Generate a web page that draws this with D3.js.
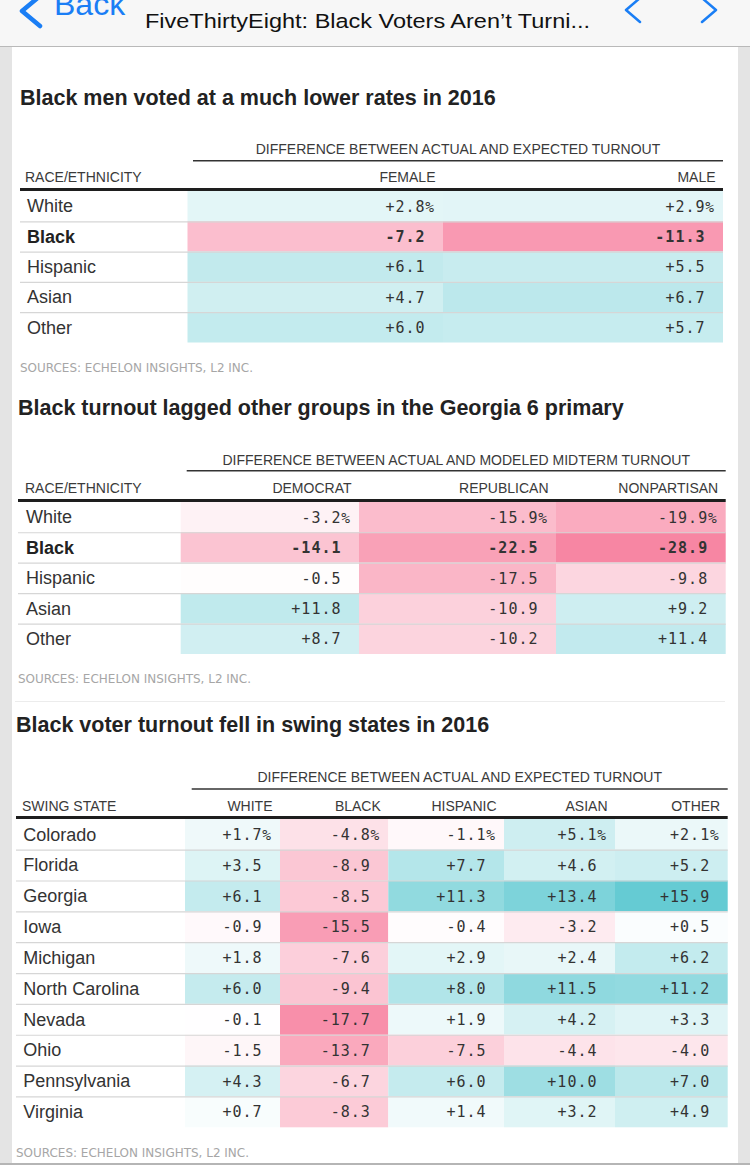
<!DOCTYPE html>
<html>
<head>
<meta charset="utf-8">
<script src="https://cdn.jsdelivr.net/npm/d3@7"></script>
<style>
  html, body { margin: 0; padding: 0; background: #e4e4e4; }
  svg { display: block; }
</style>
</head>
<body>
<script>
// ---------------- DATA ----------------
const navTitle = "FiveThirtyEight: Black Voters Aren\u2019t Turni...";

const t1Title = "Black men voted at a much lower rates in 2016";
const t1Group = "DIFFERENCE BETWEEN ACTUAL AND EXPECTED TURNOUT";
const t1RowHeader = "RACE/ETHNICITY";
const t1Rows = ["White", "Black", "Hispanic", "Asian", "Other"];
const t1Cols = ["FEMALE", "MALE"];
const t1Female = [2.8, -7.2, 6.1, 4.7, 6.0];
const t1Male = [2.9, -11.3, 5.5, 6.7, 5.7];

const t2Title = "Black turnout lagged other groups in the Georgia 6 primary";
const t2Group = "DIFFERENCE BETWEEN ACTUAL AND MODELED MIDTERM TURNOUT";
const t2RowHeader = "RACE/ETHNICITY";
const t2Rows = ["White", "Black", "Hispanic", "Asian", "Other"];
const t2Cols = ["DEMOCRAT", "REPUBLICAN", "NONPARTISAN"];
const t2Democrat = [-3.2, -14.1, -0.5, 11.8, 8.7];
const t2Republican = [-15.9, -22.5, -17.5, -10.9, -10.2];
const t2Nonpartisan = [-19.9, -28.9, -9.8, 9.2, 11.4];

const t3Title = "Black voter turnout fell in swing states in 2016";
const t3Group = "DIFFERENCE BETWEEN ACTUAL AND EXPECTED TURNOUT";
const t3RowHeader = "SWING STATE";
const t3Rows = ["Colorado", "Florida", "Georgia", "Iowa", "Michigan", "North Carolina",
                "Nevada", "Ohio", "Pennsylvania", "Virginia"];
const t3Cols = ["WHITE", "BLACK", "HISPANIC", "ASIAN", "OTHER"];
const t3White = [1.7, 3.5, 6.1, -0.9, 1.8, 6.0, -0.1, -1.5, 4.3, 0.7];
const t3Black = [-4.8, -8.9, -8.5, -15.5, -7.6, -9.4, -17.7, -13.7, -6.7, -8.3];
const t3Hispanic = [-1.1, 7.7, 11.3, -0.4, 2.9, 8.0, 1.9, -7.5, 6.0, 1.4];
const t3Asian = [5.1, 4.6, 13.4, -3.2, 2.4, 11.5, 4.2, -4.4, 10.0, 3.2];
const t3Other = [2.1, 5.2, 15.9, 0.5, 6.2, 11.2, 3.3, -4.0, 7.0, 4.9];

const sourceText = "SOURCES: ECHELON INSIGHTS, L2 INC.";

// ---------------- LAYOUT / STYLE ----------------
const W = 750, H = 1165;
const PINK = "#f7819f", TEAL = "#5fc9d1";
const SANS = "'Liberation Sans', Arial, Helvetica, sans-serif";
const MONO = "'DejaVu Sans Mono', 'Liberation Mono', monospace";

const tables = [
  { title: t1Title, group: t1Group, rowHeader: t1RowHeader, rows: t1Rows, cols: t1Cols,
    series: [t1Female, t1Male], boldRow: "Black",
    left: 20, right: 723, titleX: 20, titleY: 105, groupY: 154, groupLineY: 160.7, groupLineX0: 193,
    headY: 182, headX: 25, thickY: 189.5, rowTop: 191, rowBottom: 342.5, labelX: 27,
    edges: [187.5, 443, 723], sourceY: 372.3, sourceX: 20, colorDomain: [-14, 0, 16] },
  { title: t2Title, group: t2Group, rowHeader: t2RowHeader, rows: t2Rows, cols: t2Cols,
    series: [t2Democrat, t2Republican, t2Nonpartisan], boldRow: "Black",
    left: 18, right: 725.7, titleX: 18, titleY: 415, groupY: 465, groupLineY: 470.7, groupLineX0: 186.7,
    headY: 493.3, headX: 25, thickY: 500.5, rowTop: 501.8, rowBottom: 654, labelX: 26,
    edges: [180.7, 359, 556, 725.7], sourceY: 683.3, sourceX: 18, colorDomain: [-30, 0, 30] },
  { title: t3Title, group: t3Group, rowHeader: t3RowHeader, rows: t3Rows, cols: t3Cols,
    series: [t3White, t3Black, t3Hispanic, t3Asian, t3Other], boldRow: null,
    left: 16, right: 727.7, titleX: 16, titleY: 731.7, groupY: 781.7, groupLineY: 789, groupLineX0: 191.7,
    headY: 810.7, headX: 22, thickY: 817.5, rowTop: 818.8, rowBottom: 1127.3, labelX: 23.3,
    edges: [185, 280, 388.3, 504, 615, 727.7], sourceY: 1157.3, sourceX: 16, colorDomain: [-20, 0, 16.5] }
];

const svg = d3.select("body").append("svg").attr("width", W).attr("height", H);

// page background + white panel
svg.append("rect").attr("x", 0).attr("y", 0).attr("width", W).attr("height", H).attr("fill", "#e4e4e4");
svg.append("rect").attr("x", 12).attr("y", 46).attr("width", 726).attr("height", 1117).attr("fill", "#ffffff");

// nav bar
svg.append("rect").attr("x", 0).attr("y", 0).attr("width", W).attr("height", 46).attr("fill", "#f7f7f7");
svg.append("line").attr("x1", 0).attr("x2", W).attr("y1", 46.5).attr("y2", 46.5)
  .attr("stroke", "#b9b9b9").attr("stroke-width", 1);
const blue = "#1a7ef5";
svg.append("path").attr("d", "M40,-4 L22,11 L40,26").attr("fill", "none")
  .attr("stroke", blue).attr("stroke-width", 4.5).attr("stroke-linecap", "round").attr("stroke-linejoin", "round");
svg.append("text").attr("x", 54).attr("y", 15).attr("font-family", SANS).attr("font-size", 32)
  .attr("fill", blue).text("Back");
svg.append("text").attr("x", 145).attr("y", 28).attr("font-family", SANS).attr("font-size", 20.5)
  .attr("fill", "#111").attr("textLength", 445).attr("lengthAdjust", "spacingAndGlyphs").text(navTitle);
svg.append("path").attr("d", "M640,-2 L626,10 L640,22").attr("fill", "none")
  .attr("stroke", blue).attr("stroke-width", 2.5).attr("stroke-linecap", "round").attr("stroke-linejoin", "round");
svg.append("path").attr("d", "M702,-2 L716,10 L702,22").attr("fill", "none")
  .attr("stroke", blue).attr("stroke-width", 2.5).attr("stroke-linecap", "round").attr("stroke-linejoin", "round");

// faint rule above third table & bottom edge
svg.append("line").attr("x1", 15).attr("x2", 725).attr("y1", 701.5).attr("y2", 701.5)
  .attr("stroke", "#ececec").attr("stroke-width", 1);
svg.append("rect").attr("x", 0).attr("y", 1163).attr("width", W).attr("height", 2).attr("fill", "#b5b5b5");

const fmt = v => (v > 0 ? "+" : v < 0 ? "-" : "") + Math.abs(v).toFixed(1);

function drawTable(cfg) {
  const g = svg.append("g");
  const color = d3.scaleLinear().domain(cfg.colorDomain).range([PINK, "#ffffff", TEAL])
    .interpolate(d3.interpolateRgb).clamp(true);
  const y = d3.scaleBand().domain(cfg.rows).range([cfg.rowTop, cfg.rowBottom]);
  const x = d3.scaleOrdinal().domain(cfg.cols).range(cfg.edges.slice(0, -1));
  const xEnd = d3.scaleOrdinal().domain(cfg.cols).range(cfg.edges.slice(1));

  // title
  g.append("text").attr("x", cfg.titleX).attr("y", cfg.titleY)
    .attr("font-family", SANS).attr("font-weight", "bold").attr("font-size", 21.5)
    .attr("fill", "#222").text(cfg.title);

  // group header
  g.append("text").attr("x", (cfg.groupLineX0 + cfg.right) / 2).attr("y", cfg.groupY)
    .attr("text-anchor", "middle").attr("font-family", SANS).attr("font-size", 14)
    .attr("fill", "#3a3a3a").text(cfg.group);
  g.append("line").attr("x1", cfg.groupLineX0).attr("x2", cfg.right)
    .attr("y1", cfg.groupLineY).attr("y2", cfg.groupLineY).attr("stroke", "#333").attr("stroke-width", 1.5);

  // column headers
  g.append("text").attr("x", cfg.headX).attr("y", cfg.headY).attr("font-family", SANS)
    .attr("font-size", 14).attr("fill", "#3a3a3a").text(cfg.rowHeader);
  g.selectAll("text.colhead").data(cfg.cols).join("text").attr("class", "colhead")
    .attr("x", d => xEnd(d) - 7.5).attr("y", cfg.headY).attr("text-anchor", "end")
    .attr("font-family", SANS).attr("font-size", 14).attr("fill", "#3a3a3a").text(d => d);

  // cells
  const cells = [];
  cfg.cols.forEach((c, ci) => cfg.rows.forEach((r, ri) => cells.push({ col: c, row: r, ri, v: cfg.series[ci][ri] })));
  g.selectAll("rect.cell").data(cells).join("rect").attr("class", "cell")
    .attr("x", d => x(d.col)).attr("y", d => y(d.row))
    .attr("width", d => xEnd(d.col) - x(d.col)).attr("height", y.bandwidth())
    .attr("fill", d => color(d.v));

  // row separators
  g.selectAll("line.sep").data(cfg.rows.slice(1)).join("line").attr("class", "sep")
    .attr("x1", cfg.left).attr("x2", cfg.right)
    .attr("y1", d => y(d) + 0.5).attr("y2", d => y(d) + 0.5)
    .attr("stroke", "#d6d6d6").attr("stroke-width", 1.2);

  // thick header rule
  g.append("line").attr("x1", cfg.left).attr("x2", cfg.right)
    .attr("y1", cfg.thickY).attr("y2", cfg.thickY).attr("stroke", "#1e1e1e").attr("stroke-width", 3);

  // row labels
  g.selectAll("text.rowlab").data(cfg.rows).join("text").attr("class", "rowlab")
    .attr("x", cfg.labelX).attr("y", d => y(d) + y.bandwidth() / 2 + 6.3)
    .attr("font-family", SANS).attr("font-size", 18)
    .attr("font-weight", d => d === cfg.boldRow ? "bold" : "normal")
    .attr("fill", d => d === cfg.boldRow ? "#222" : "#333").text(d => d);

  // values
  g.selectAll("text.val").data(cells).join("text").attr("class", "val")
    .attr("x", d => xEnd(d.col) - 17.5).attr("y", d => y(d.row) + y.bandwidth() / 2 + 5.6)
    .attr("text-anchor", "end").attr("font-family", MONO).attr("font-size", 15)
    .attr("letter-spacing", 1.0)
    .attr("font-weight", d => d.row === cfg.boldRow ? "bold" : "normal")
    .attr("fill", "#333").text(d => fmt(d.v));
  g.selectAll("text.pct").data(cells.filter(d => d.ri === 0)).join("text").attr("class", "pct")
    .attr("x", d => xEnd(d.col) - 17.8).attr("y", d => y(d.row) + y.bandwidth() / 2 + 5.6)
    .attr("font-family", MONO).attr("font-size", 14.5).attr("fill", "#333").text("%");

  // sources
  g.append("text").attr("x", cfg.sourceX).attr("y", cfg.sourceY)
    .attr("font-family", "'DejaVu Sans Condensed', 'DejaVu Sans', sans-serif").attr("font-size", 11.5)
    .attr("fill", "#a6a6a6").attr("textLength", 233).attr("lengthAdjust", "spacingAndGlyphs")
    .text(sourceText);
}

tables.forEach(drawTable);
</script>
</body>
</html>
